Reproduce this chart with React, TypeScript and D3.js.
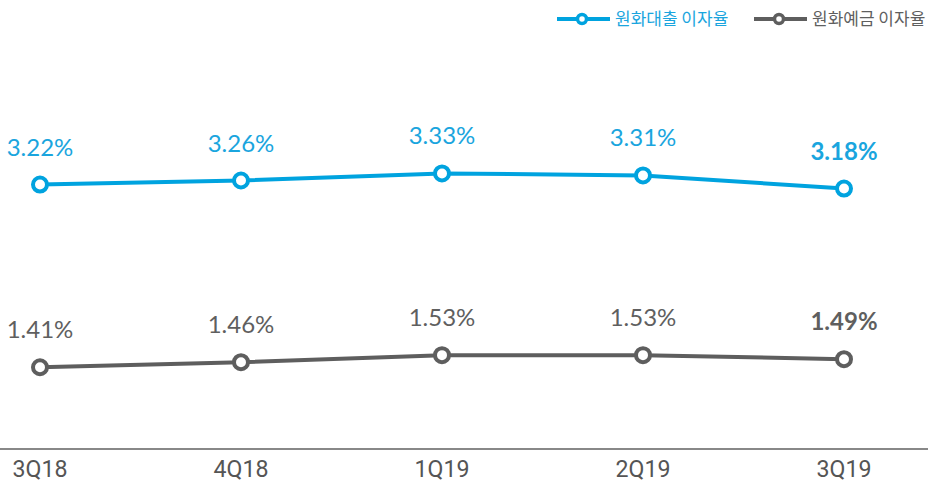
import React from "react";
import * as d3 from "d3";

const categories = ["3Q18", "4Q18", "1Q19", "2Q19", "3Q19"];
const loanRates = [3.22, 3.26, 3.33, 3.31, 3.18];
const depositRates = [1.41, 1.46, 1.53, 1.53, 1.49];
const seriesNames = ["원화대출 이자율", "원화예금 이자율"];

const W = 928;
const H = 484;
const BLUE = "#00a3df";
const GRAY = "#5e5e5e";

const App = () => {
  const x = d3.scalePoint<string>().domain(categories).range([40, 844]);
  const y = d3.scaleLinear().domain([0.6, 3.8]).range([449, 126]);

  const line = d3
    .line<number>()
    .x((_, i) => x(categories[i]) as number)
    .y((d) => y(d));

  const series = [
    { name: seriesNames[0], values: loanRates, color: BLUE, label: "#1aa5de" },
    { name: seriesNames[1], values: depositRates, color: GRAY, label: "#5f5f5f" },
  ];

  const legendX = [557, 754];

  return (
    <svg
      width={W}
      height={H}
      style={{ position: "absolute", left: 0, top: 0 }}
      fontFamily="Lato, 'Noto Sans CJK KR', sans-serif"
    >
      {/* legend */}
      {series.map((s, i) => (
        <g key={s.name} transform={`translate(${legendX[i]},19)`}>
          <line x1={0} x2={53} y1={0} y2={0} stroke={s.color} strokeWidth={4} />
          <circle cx={25} cy={0} r={4.5} fill="#fff" stroke={s.color} strokeWidth={3.5} />
          <text
            x={58}
            y={0}
            dy="0.35em"
            fontSize={17}
            fill={s.label}
            fontFamily="'Noto Sans CJK KR', sans-serif"
          >
            {s.name}
          </text>
        </g>
      ))}

      {/* axis line */}
      <line x1={0} x2={W} y1={449} y2={449} stroke="#888" strokeWidth={2} />
      {categories.map((c) => (
        <text
          key={c}
          x={x(c)}
          y={477}
          textAnchor="middle"
          fontSize={23}
          fill="#555"
          fontFamily="Roboto, sans-serif"
          textLength={55}
          lengthAdjust="spacingAndGlyphs"
        >
          {c}
        </text>
      ))}

      {series.map((s) => (
        <g key={s.name}>
          <path d={line(s.values) || ""} fill="none" stroke={s.color} strokeWidth={4} />
          {s.values.map((v, i) => (
            <circle
              key={i}
              cx={x(categories[i])}
              cy={y(v)}
              r={7}
              fill="#fff"
              stroke={s.color}
              strokeWidth={4}
            />
          ))}
          {s.values.map((v, i) => (
            <text
              key={"t" + i}
              x={x(categories[i])}
              y={y(v) - 29}
              textAnchor="middle"
              fontSize={24}
              fontWeight={i === categories.length - 1 ? 700 : 400}
              fill={s.label}
            >
              {v.toFixed(2)}%
            </text>
          ))}
        </g>
      ))}
    </svg>
  );
};

export default App;
